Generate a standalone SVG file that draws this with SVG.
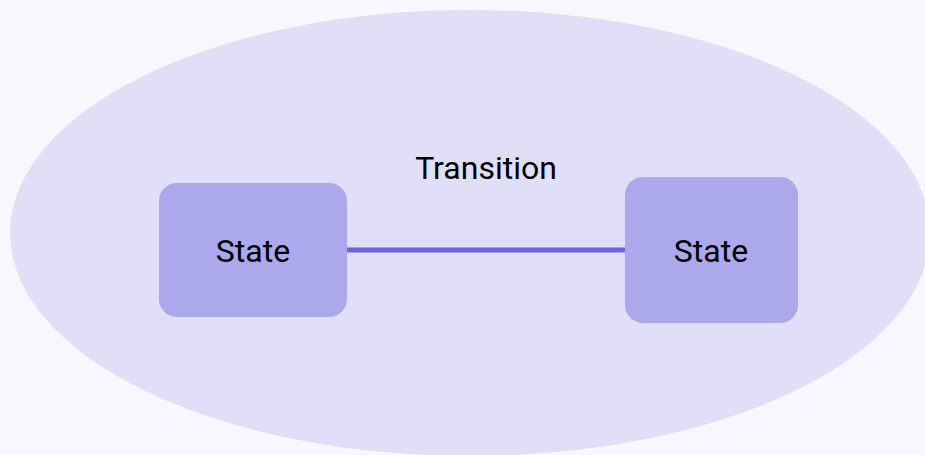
<svg xmlns="http://www.w3.org/2000/svg" width="925" height="455" viewBox="0 0 925 455">
  <style>
    .state { fill: #aba8ec; }
    .label { font-family: Roboto, "Liberation Sans", sans-serif; font-size: 32px; fill: #000; text-anchor: middle; }
    .edge { stroke: #6c63dd; stroke-width: 5; fill: none; }
  </style>
  <rect width="925" height="455" fill="#f7f8fe"/>
  <ellipse id="region" cx="470" cy="233" rx="460" ry="223" fill="#e0dff7"/>
  <g id="connectors">
    <line class="edge" x1="347" y1="250" x2="625" y2="250"/>
    <text class="label" x="486" y="179">Transition</text>
  </g>
  <g id="state-left">
    <rect class="state" x="159" y="183" width="188" height="134" rx="18"/>
    <text class="label" x="253" y="262">State</text>
  </g>
  <g id="state-right">
    <rect class="state" x="625" y="177" width="173" height="146" rx="18"/>
    <text class="label" x="711" y="262">State</text>
  </g>
</svg>
